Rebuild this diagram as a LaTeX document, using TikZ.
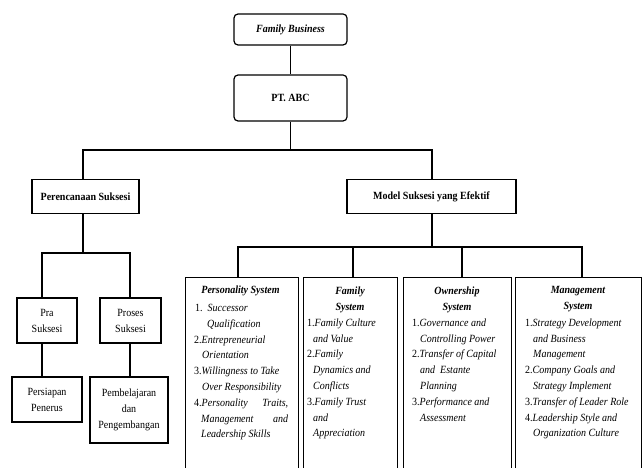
\documentclass[tikz,border=0pt]{standalone}
\usepackage{fontspec}
\setmainfont[FakeStretch=0.91]{Liberation Serif}
\begin{document}
\begin{tikzpicture}[x=1pt,y=-1pt,
  ln/.style={line width=1.2pt},
  sbox/.style={draw,line width=1.2pt,inner sep=0pt,align=center,
    font=\fontsize{11}{16}\selectfont},
  rbox/.style={sbox,rounded corners=4pt},
  tall/.style={draw,line width=1.2pt,inner sep=0pt,anchor=north west},
  ttl/.style={inner sep=0pt,align=center,anchor=north,
    font=\fontsize{11}{16}\selectfont\bfseries\itshape},
  lst/.style={inner sep=0pt,align=left,anchor=north west,
    font=\fontsize{11}{15.8}\selectfont\itshape}]
\useasboundingbox (0,0) rectangle (642,468);
\clip (0,0) rectangle (642,468);

% top
\node[rbox,minimum width=113pt,minimum height=31pt] (fb) at (290.5,29.5) {\textbf{\textit{Family Business}}};
\node[rbox,minimum width=113pt,minimum height=46pt] (pt) at (290.5,98) {\textbf{PT. ABC}};
\draw[ln] (fb.south) -- (pt.south |- fb.south) -- (pt.north);

% second level
\node[sbox,minimum width=107pt,minimum height=34pt] (per) at (85.5,196.5) {\textbf{Perencanaan Suksesi}};
\node[sbox,minimum width=169pt,minimum height=34pt] (mod) at (431.5,196.5) {\textbf{Model Suksesi yang Efektif}};
\coordinate (bL) at (83,150);
\coordinate (bR) at (432,150);
\draw[ln] (pt.south) -- (pt.south |- bL);
\draw[ln] (bL |- per.north) -- (bL) -- (bR) -- (bR |- mod.north);

% left branch
\node[sbox,minimum width=60pt,minimum height=45pt] (pra) at (47,320.5) {Pra\\Suksesi};
\node[sbox,minimum width=61pt,minimum height=45pt] (pro) at (130.5,320.5) {Proses\\Suksesi};
\node[sbox,minimum width=70pt,minimum height=45pt] (psp) at (47,399.5) {Persiapan\\Penerus};
\node[sbox,minimum width=78pt,minimum height=66pt] (pmb) at (129,410) {Pembelajaran\\dan\\Pengembangan};
\coordinate (sL) at (42,253);
\coordinate (sR) at (130,253);
\draw[ln] (per.south -| bL) -- (bL |- sL);
\draw[ln] (sL |- pra.north) -- (sL) -- (sR) -- (sR |- pro.north);
\draw[ln] (sL |- pra.south) -- (sL |- psp.north);
\draw[ln] (sR |- pro.south) -- (sR |- pmb.north);

% right branch boxes
\node[tall,minimum width=113pt,minimum height=200pt] (ps) at (184.5,276.5) {};
\node[tall,minimum width=94pt,minimum height=200pt] (fs) at (303,276.5) {};
\node[tall,minimum width=108pt,minimum height=200pt] (os) at (403,276.5) {};
\node[tall,minimum width=126pt,minimum height=200pt] (ms) at (515,276.5) {};
\coordinate (mA) at (238,247);
\coordinate (mB) at (353,247);
\coordinate (mC) at (462,247);
\coordinate (mD) at (582,247);
\draw[ln] (mod.south -| bR) -- (bR |- mA);
\draw[ln] (mA |- ps.north) -- (mA) -- (mD) -- (mD |- ms.north);
\draw[ln] (mB) -- (mB |- fs.north);
\draw[ln] (mC) -- (mC |- os.north);

% titles
\node[ttl] (pst) at (240.5,285.5) {Personality System};
\node[ttl] (fst) at (350,286.5) {Family\\System};
\node[ttl] (ost) at (457,286.5) {Ownership\\System};
\node[ttl] (mst) at (578,286.5) {Management\\System};

% lists
\node[lst] (psl) at (194,304) {%
\hspace*{1pt}\textup{1.}\hspace{5pt}Successor\\
\hspace*{13pt}Qualification\\
\textup{2.}Entrepreneurial\\
\hspace*{8pt}Orientation\\
\textup{3.}Willingness to Take\\
\hspace*{8pt}Over Responsibility\\
\hbox to 94pt{\textup{4.}Personality\hfill Traits,}\\
\hbox to 94pt{\hspace*{7pt}Management\hfill and}\\
\hspace*{7pt}Leadership Skills};

\node[lst] (fsl) at (307,318.5) {%
\textup{1.}Family Culture\\
\hspace*{6pt}and Value\\
\textup{2.}Family\\
\hspace*{6pt}Dynamics and\\
\hspace*{6pt}Conflicts\\
\textup{3.}Family Trust\\
\hspace*{6pt}and\\
\hspace*{6pt}Appreciation};

\node[lst] (osl) at (412,318.5) {%
\textup{1.}Governance and\\
\hspace*{8pt}Controlling Power\\
\textup{2.}Transfer of Capital\\
\hspace*{8pt}and\ \ Estante\\
\hspace*{8pt}Planning\\
\textup{3.}Performance and\\
\hspace*{8pt}Assessment};

\node[lst] (msl) at (525,318.5) {%
\textup{1.}Strategy Development\\
\hspace*{8pt}and Business\\
\hspace*{8pt}Management\\
\textup{2.}Company Goals and\\
\hspace*{8pt}Strategy Implement\\
\textup{3.}Transfer of Leader Role\\
\textup{4.}Leadership Style and\\
\hspace*{8pt}Organization Culture};
\end{tikzpicture}
\end{document}
